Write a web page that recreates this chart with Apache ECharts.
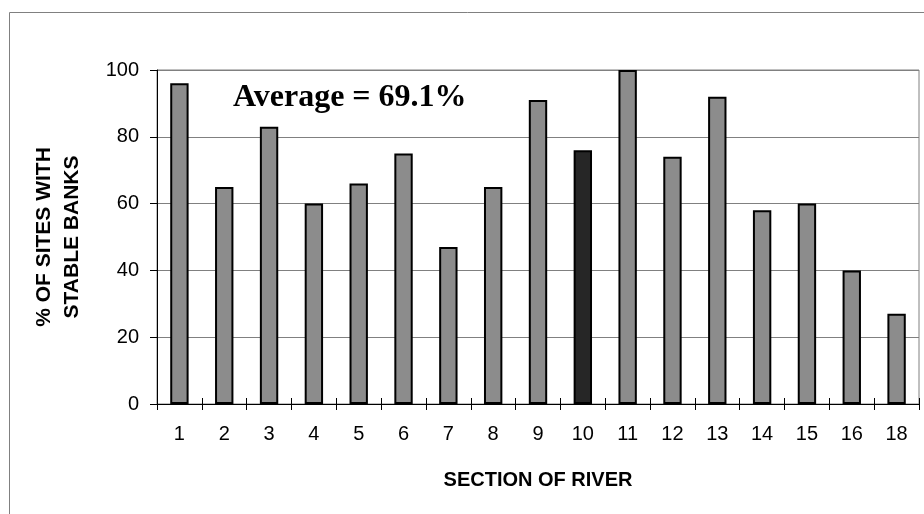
<!DOCTYPE html>
<html><head><meta charset="utf-8">
<script src="https://cdn.jsdelivr.net/npm/echarts@6/dist/echarts.min.js"></script>
<style>html,body{margin:0;padding:0;background:#fff}#c{width:924px;height:514px}</style>
</head><body><div id="c"></div>
<script>
const categories = ['1','2','3','4','5','6','7','8','9','10','11','12','13','14','15','16','18'];
const values = [96, 65, 83, 60, 66, 75, 47, 65, 91, 76, 100, 74, 92, 58, 60, 40, 27];
const highlightCategory = '10';
const yTicks = [0, 20, 40, 60, 80, 100];
const averageLabel = 'Average = 69.1%';

const chart = echarts.init(document.getElementById('c'), null, {renderer: 'canvas'});
const barData = values.map((v, i) => ({
  value: v,
  itemStyle: { color: categories[i] === highlightCategory ? '#262626' : '#8c8c8c' }
}));
chart.setOption({
  animation: false,
  backgroundColor: '#fff',
  grid: { left: 157, top: 70, right: 5, bottom: 110, containLabel: false,
          show: true, borderColor: '#808080', borderWidth: 1 },
  graphic: [
    { type: 'rect', shape: { x: 9.5, y: 12.5, width: 1000, height: 1000 },
      style: { fill: 'none', stroke: '#808080', lineWidth: 1 }, z: -1 },
    { type: 'text', left: 233, top: 82,
      style: { text: averageLabel, font: 'bold 32px "Liberation Serif", "Times New Roman", serif', fill: '#000' } }
  ],
  xAxis: [{
    type: 'category', data: categories,
    name: 'SECTION OF RIVER', nameLocation: 'middle', nameGap: 66,
    nameTextStyle: { fontFamily: 'Liberation Sans, Arial', fontWeight: 'bold', fontSize: 20, color: '#000' },
    axisLine: { lineStyle: { color: '#000', width: 1 } },
    axisTick: { show: true, alignWithLabel: false, length: 6, lineStyle: { color: '#000' } },
    axisLabel: { fontFamily: 'Liberation Sans, Arial', fontSize: 20, color: '#000', margin: 20, interval: 0 }
  }, {
    type: 'category', data: categories, position: 'bottom',
    axisLine: { show: false },
    axisTick: { show: true, inside: true, length: 6, lineStyle: { color: '#000' } },
    axisLabel: { show: false }
  }],
  yAxis: {
    type: 'value', min: 0, max: 100, interval: 20,
    name: '% OF SITES WITH\nSTABLE BANKS', nameLocation: 'middle', nameGap: 71, nameRotate: 90,
    nameTextStyle: { fontFamily: 'Liberation Sans, Arial', fontWeight: 'bold', fontSize: 21, color: '#000', lineHeight: 28 },
    axisLine: { show: true, lineStyle: { color: '#000', width: 1 } },
    axisTick: { show: true, length: 7, lineStyle: { color: '#000' } },
    axisLabel: { fontFamily: 'Liberation Sans, Arial', fontSize: 20, color: '#000', margin: 18,
                 formatter: v => yTicks.includes(v) ? String(v) : '' },
    splitLine: { show: true, lineStyle: { color: '#808080', width: 1 } }
  },
  series: [{
    type: 'bar', data: barData, barWidth: '41%',
    itemStyle: { borderColor: '#000', borderWidth: 2 }
  }]
});
</script></body></html>
